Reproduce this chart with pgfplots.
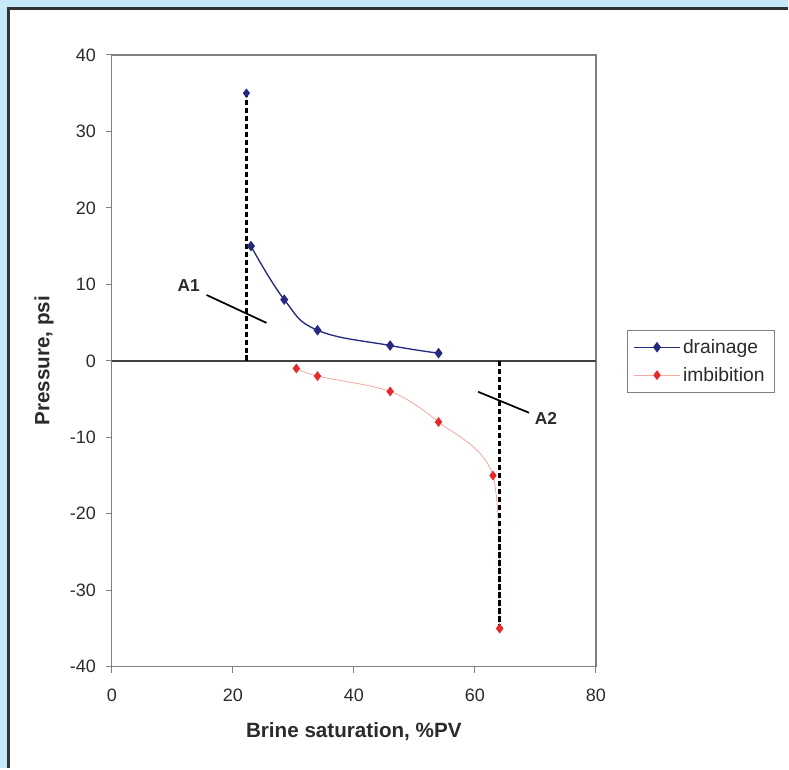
\documentclass[border=0pt]{standalone}
\usepackage{fontspec}
\setmainfont{Liberation Sans}
\usepackage{pgfplots}
\pgfplotsset{compat=1.18}
\definecolor{bgblue}{HTML}{C6E8F8}
\definecolor{navy}{HTML}{262A7E}
\definecolor{redm}{HTML}{E62A2A}
\definecolor{pinkl}{HTML}{F2A9A0}
\definecolor{framegray}{HTML}{808080}
\definecolor{txt}{HTML}{2B2B2B}

\begin{document}
\begin{tikzpicture}
% page background and white panel (1px = 0.75pt)
\fill[bgblue] (-84pt,-75.75pt) rectangle (507.75pt,501pt);
\fill[white] (-77.6pt,-75.75pt) rectangle (507.75pt,494.25pt);
\draw[line width=2.25pt,black!80] (-77.6pt,-75.75pt) -- (-77.6pt,494.25pt) -- (507.75pt,494.25pt);

\begin{axis}[
    at={(0,0)}, anchor=south west,
    scale only axis,
    width=363.75pt, height=459.75pt,
    xmin=0, xmax=80, ymin=-40, ymax=40,
    xtick={0,20,...,80},
    ytick={-40,-30,...,40},
    axis line style={framegray, line width=1pt},
    tick style={framegray, line width=0.8pt},
    tick align=outside,
    major tick length=4.5pt,
    xtick pos=bottom, ytick pos=left,
    /pgf/number format/assume math mode=true,
    every tick label/.append style={font=\fontsize{13.5}{16}\selectfont, text=txt},
    xticklabel style={yshift=-9pt},
    yticklabel style={xshift=-4pt},
    xlabel={Brine saturation, \%PV},
    ylabel={Pressure, psi},
    label style={font=\bfseries\fontsize{15.5}{18}\selectfont, text=txt},
    xlabel style={at={(axis description cs:0.5,-0.106)}, anchor=center},
    ylabel style={at={(axis description cs:-0.14,0.5)}, anchor=center},
    legend style={at={(1.064,0.551)}, anchor=north west, draw=framegray,
        font=\fontsize{14.5}{17}\selectfont, text=txt, cells={anchor=west},
        row sep=5pt, inner xsep=5pt, inner ysep=5pt},
    legend image code/.code={\draw[mark repeat=2,mark phase=2,#1]
        plot coordinates {(0pt,0pt) (17pt,0pt) (34pt,0pt)};},
    clip=false,
]

% zero line
\addplot[black!75, line width=1.5pt, forget plot] coordinates {(0,0) (80,0)};

\addplot[navy, line width=1pt, smooth, tension=0.7, mark=diamond*, mark size=3.2pt,
    mark options={fill=navy, draw=navy}] coordinates {
    (23,15) (28.5,8) (34,4) (46,2) (54,1)
};
\addplot[pinkl, line width=0.6pt, smooth, mark=diamond*, mark size=3.2pt,
    mark options={fill=redm, draw=redm}] coordinates {
    (30.5,-1) (34,-2) (46,-4) (54,-8) (63,-15) (64.1,-35)
};

% dashed limits
\addplot[black, line width=2.3pt, dash pattern=on 4pt off 2pt, forget plot]
    coordinates {(22.25,0) (22.25,35)};
\addplot[black, line width=2.3pt, dash pattern=on 4pt off 2pt, forget plot]
    coordinates {(64.1,0) (64.1,-35)};
% end points, drawn over the dashed limits
\addplot[only marks, mark=diamond*, mark size=3.2pt, navy,
    mark options={fill=navy, draw=navy}, forget plot] coordinates {(22.25,35)};
\addplot[only marks, mark=diamond*, mark size=3.2pt, redm,
    mark options={fill=redm, draw=redm}, forget plot] coordinates {(64.1,-35)};

% area pointers
\addplot[black, line width=1.3pt, forget plot] coordinates {(15.67,8.61) (25.57,4.96)};
\addplot[black, line width=1.3pt, forget plot] coordinates {(60.54,-4.05) (68.95,-6.79)};
\node[font=\bfseries\fontsize{13}{15}\selectfont, text=txt] at (axis cs:12.7,9.8) {A1};
\node[font=\bfseries\fontsize{13}{15}\selectfont, text=txt] at (axis cs:71.75,-7.6) {A2};

\legend{drainage, imbibition}
\end{axis}
\end{tikzpicture}
\end{document}
